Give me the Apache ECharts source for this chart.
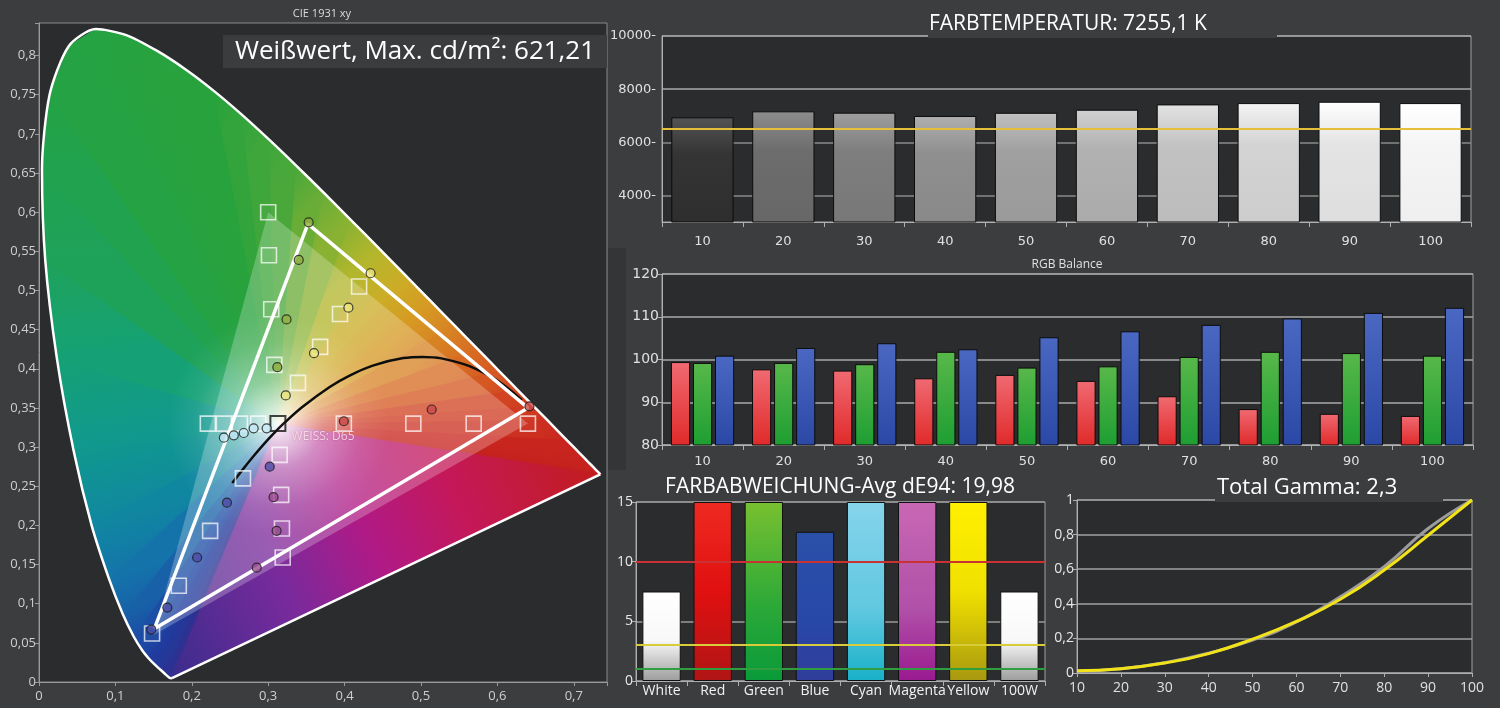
<!DOCTYPE html>
<html><head><meta charset="utf-8">
<script src="https://cdn.jsdelivr.net/npm/echarts@6/dist/echarts.min.js"></script>
<style>html,body{margin:0;padding:0;background:#3c3d3f;}#c{width:1500px;height:708px;}</style>
</head><body><div id="c"></div><script>
// ---------- DATA ----------
// CIE 1931 spectral locus (nm, x, y)
const locusNm = [380,400,410,420,430,440,450,455,460,465,470,475,480,485,490,495,500,505,510,515,520,525,530,535,540,545,550,555,560,565,570,575,580,585,590,595,600,605,610,620,630,640,650,660,680,700];
const locusX = [0.1741,0.1733,0.1726,0.1714,0.1689,0.1644,0.1566,0.1510,0.1440,0.1355,0.1241,0.1096,0.0913,0.0687,0.0454,0.0235,0.0082,0.0039,0.0139,0.0389,0.0743,0.1142,0.1547,0.1929,0.2296,0.2658,0.3016,0.3373,0.3731,0.4087,0.4441,0.4788,0.5125,0.5448,0.5752,0.6029,0.6270,0.6482,0.6658,0.6915,0.7079,0.7190,0.7260,0.7300,0.7334,0.7347];
const locusY = [0.0050,0.0048,0.0048,0.0051,0.0069,0.0109,0.0177,0.0227,0.0297,0.0399,0.0578,0.0868,0.1327,0.2007,0.2950,0.4127,0.5384,0.6548,0.7502,0.8120,0.8338,0.8262,0.8059,0.7816,0.7543,0.7243,0.6923,0.6589,0.6245,0.5896,0.5547,0.5202,0.4866,0.4544,0.4242,0.3965,0.3725,0.3514,0.3340,0.3083,0.2920,0.2809,0.2740,0.2700,0.2666,0.2653];
const whitePoint = [0.3127, 0.329];
const refGamut = [[0.64,0.33],[0.30,0.60],[0.15,0.06]];
const measuredGamut = [[0.151,0.068],[0.352,0.585],[0.640,0.350],[0.151,0.068]];
const planckLocus = [[0.253,0.254],[0.2637,0.2677],[0.2807,0.2883],[0.2952,0.3048],[0.3064,0.3166],[0.3221,0.3318],[0.3451,0.3516],[0.3805,0.3768],[0.4053,0.3907],[0.4369,0.4041],[0.4770,0.4137],[0.5019,0.4152],[0.5267,0.4133],[0.5857,0.3931],[0.632,0.360]];
const targetPts = [
  [0.300,0.600],[0.301,0.545],[0.304,0.476],[0.308,0.405],
  [0.419,0.505],[0.394,0.470],[0.368,0.428],[0.339,0.382],
  [0.640,0.330],[0.569,0.330],[0.490,0.330],[0.399,0.330],
  [0.221,0.330],[0.242,0.330],[0.263,0.330],[0.287,0.330],
  [0.148,0.062],[0.183,0.123],[0.224,0.193],[0.267,0.260],
  [0.315,0.290],[0.317,0.239],[0.318,0.196],[0.319,0.159]
];
const whiteTarget = [[0.3127,0.330]];
const measGreen = [[0.353,0.587],[0.340,0.539],[0.324,0.463],[0.312,0.402]];
const measYellow = [[0.434,0.522],[0.405,0.478],[0.360,0.420],[0.323,0.366]];
const measRed = [[0.642,0.352],[0.514,0.348],[0.399,0.333]];
const measCyan = [[0.242,0.312],[0.255,0.315],[0.268,0.318],[0.281,0.324],[0.298,0.324]];
const measBlue = [[0.147,0.067],[0.168,0.095],[0.207,0.159],[0.246,0.229],[0.302,0.275]];
const measMagenta = [[0.285,0.146],[0.311,0.193],[0.307,0.236]];
const whiteLabelPt = [[0.328,0.313]];

const tempCats = ['10','20','30','40','50','60','70','80','90','100'];
const tempValues = [6940,7165,7115,6990,7110,7225,7425,7475,7525,7475];
const tempTarget = 6500;

const rgbCats = ['10','20','30','40','50','60','70','80','90','100'];
const rgbRed   = [99.4,97.7,97.4,95.6,96.4,95.0,91.4,88.4,87.3,86.8];
const rgbGreen = [99.2,99.2,98.9,101.8,98.1,98.4,100.6,101.8,101.5,100.9];
const rgbBlue  = [100.9,102.7,103.8,102.4,105.2,106.6,108.1,109.6,110.9,112.1];

const deCats = ['White','Red','Green','Blue','Cyan','Magenta','Yellow','100W'];
const deValues = [7.5,15,15,12.5,15,15,15,7.5];
const deLimits = [10,3,1];

const gammaX = [10,20,30,40,50,60,70,80,90,100];
const gammaTarget = [0.010,0.025,0.060,0.115,0.190,0.295,0.440,0.615,0.835,1.0];
const gammaMeasured = [0.013,0.025,0.058,0.112,0.196,0.298,0.426,0.595,0.796,1.0];

// ---------- STYLE HELPERS ----------
const SPECTRUM = [[380,'#3b2d8c'],[440,'#2c3192'],[460,'#1f3c9e'],[470,'#1c4ea6'],[480,'#1474aa'],[487,'#0e8f9c'],[493,'#12a080'],[500,'#1ea25a'],[510,'#24a244'],[540,'#28a23c'],[555,'#4aa83a'],[565,'#8ab232'],[572,'#c4b82a'],[580,'#d69a23'],[590,'#d86a22'],[600,'#d24421'],[615,'#c9261f'],[700,'#c21d1d']];
function hex(h){return [parseInt(h.slice(1,3),16),parseInt(h.slice(3,5),16),parseInt(h.slice(5,7),16)];}
function nmColor(nm){
  for(let i=0;i<SPECTRUM.length-1;i++){
    const a=SPECTRUM[i],b=SPECTRUM[i+1];
    if(nm>=a[0]&&nm<=b[0]){
      const t=(nm-a[0])/(b[0]-a[0]);const ca=hex(a[1]),cb=hex(b[1]);
      return 'rgb('+ca.map((v,k)=>Math.round(v+(cb[k]-v)*t)).join(',')+')';
    }
  }
  return SPECTRUM[SPECTRUM.length-1][1];
}
function comma(v,step){
  if(Math.abs(v/step-Math.round(v/step))>1e-6) return '';
  return String(Math.round(v*1000)/1000).replace('.',',');
}
function lg(stops){return {type:'linear',x:0,y:0,x2:0,y2:1,colorStops:stops.map(s=>({offset:s[0],color:s[1]}))};}

const FONT='Open Sans';
const AX='#cfcfcf';

function fanItem(params, api){
  const i = api.value(0);
  const n = locusX.length;
  const w = api.coord(whitePoint);
  if(i < n-1){
    const p1 = api.coord([locusX[i],locusY[i]]);
    const p2 = api.coord([locusX[i+1],locusY[i+1]]);
    const g = {type:'linear',x:p1[0],y:p1[1],x2:p2[0],y2:p2[1],global:true,colorStops:[
      {offset:0,color:nmColor(locusNm[i])},{offset:1,color:nmColor(locusNm[i+1])}]};
    return {type:'polygon',shape:{points:[w,p1,p2]},style:{fill:g,stroke:g,lineWidth:1.2}};
  }
  const a = api.coord([locusX[0],locusY[0]]);
  const b = api.coord([locusX[n-1],locusY[n-1]]);
  const g = {type:'linear',x:a[0],y:a[1],x2:b[0],y2:b[1],global:true,colorStops:[
    {offset:0,color:'#3b2d8c'},{offset:0.3,color:'#7a2a9c'},{offset:0.5,color:'#b01a86'},{offset:0.7,color:'#c4185a'},{offset:1,color:'#c21d1d'}]};
  return {type:'polygon',shape:{points:[w,b,a]},style:{fill:g,stroke:g,lineWidth:1.2}};
}
function glowItem(params, api){
  const w = api.coord(whitePoint);
  const pts = locusX.map((x,i)=>api.coord([x,locusY[i]]));
  const r = api.coord([whitePoint[0]+0.145,whitePoint[1]])[0]-w[0];
  const tri = refGamut.map(p=>api.coord(p));
  return {type:'group',children:[
    {type:'polygon',shape:{points:tri},style:{fill:'rgba(255,255,255,0.24)'}},
    {type:'polygon',shape:{points:pts},style:{fill:{type:'radial',x:w[0],y:w[1],r:r,global:true,colorStops:[
      {offset:0,color:'rgba(255,255,255,0.95)'},{offset:0.1,color:'rgba(255,255,255,0.78)'},{offset:0.4,color:'rgba(255,255,255,0.33)'},{offset:0.75,color:'rgba(255,255,255,0.08)'},{offset:1,color:'rgba(255,255,255,0)'}]}}}
  ]};
}

const tempLevel = i => i===0 ? 52 : 92 + i*17;
const deStyle = {
  White:[[0,'#ffffff'],[0.55,'#f8f8f8'],[1,'#9c9c9c']],
  Red:[[0,'#ee2a22'],[0.5,'#e01010'],[1,'#b01515']],
  Green:[[0,'#78c030'],[0.6,'#2aa838'],[1,'#0a9a3a']],
  Blue:[[0,'#2a50a8'],[0.6,'#2848a8'],[1,'#303c9a']],
  Cyan:[[0,'#86d4ec'],[0.6,'#60c8e0'],[1,'#18b0c8']],
  Magenta:[[0,'#c868b4'],[0.6,'#b050a8'],[1,'#9a1a90']],
  Yellow:[[0,'#fff000'],[0.5,'#f0e000'],[1,'#a89810']],
  '100W':[[0,'#ffffff'],[0.55,'#f8f8f8'],[1,'#9c9c9c']]
};

function circles(data,color){
  return {type:'scatter',xAxisIndex:0,yAxisIndex:0,data:data,symbol:'circle',symbolSize:9,z:8,
    itemStyle:{color:color,borderColor:'#1c1c1c',borderWidth:1.2}};
}
function catAxis(grid,data){
  return {type:'category',gridIndex:grid,data:data,
    axisLine:{lineStyle:{color:'#b0b0b0'}},axisTick:{show:true,length:5,lineStyle:{color:'#b0b0b0'}},
    axisLabel:{color:'#e0e0e0',fontSize:13,fontFamily:'DejaVu Sans',margin:10,interval:0}};
}
const gridStyle = {show:true,backgroundColor:'#2b2c2e',borderColor:'#a0a0a0',borderWidth:1,outerBoundsMode:'none'};
const nL = locusX.length;

const option = {
  backgroundColor:'#3c3d3f',
  animation:false,
  grid:[
    Object.assign({left:39,top:23,width:568,height:659},gridStyle,{backgroundColor:'#2a2c2e',borderColor:'#8a8a8a'}),
    Object.assign({left:662,top:36,width:809,height:186},gridStyle),
    Object.assign({left:662,top:274,width:811,height:171},gridStyle),
    Object.assign({left:636,top:502,width:409,height:179},gridStyle),
    Object.assign({left:1077,top:500,width:395,height:173},gridStyle)
  ],
  xAxis:[
    {type:'value',gridIndex:0,min:0,max:0.7435,interval:0.1,splitLine:{show:false},
     axisLine:{lineStyle:{color:'#9a9a9a'}},axisTick:{show:true,length:4,lineStyle:{color:'#9a9a9a'}},
     axisLabel:{color:AX,fontSize:13,fontFamily:FONT,margin:8,formatter:v=>comma(v,0.1)}},
    Object.assign(catAxis(1,tempCats),{axisLabel:{color:'#e0e0e0',fontSize:13,fontFamily:'DejaVu Sans',margin:13,interval:0}}),
    catAxis(2,rgbCats),
    Object.assign(catAxis(3,deCats),{axisLabel:{color:'#f2f2f2',fontSize:14,fontFamily:FONT,margin:3,interval:0}}),
    {type:'value',gridIndex:4,min:10,max:100,interval:10,splitLine:{show:false},
     axisLine:{lineStyle:{color:'#b0b0b0'}},axisTick:{show:true,length:4,lineStyle:{color:'#b0b0b0'}},
     axisLabel:{color:'#e0e0e0',fontSize:14,fontFamily:FONT,margin:8}}
  ],
  yAxis:[
    {type:'value',gridIndex:0,min:0,max:0.8416,interval:0.05,splitLine:{show:false},
     axisLine:{show:true,lineStyle:{color:'#9a9a9a'}},axisTick:{show:true,length:4,lineStyle:{color:'#9a9a9a'}},
     axisLabel:{color:AX,fontSize:13,fontFamily:FONT,margin:3,formatter:v=>comma(v,0.05)}},
    {type:'value',gridIndex:1,min:3000,max:10000,interval:1000,
     splitLine:{show:true,lineStyle:{color:['transparent','#8a8a8a','transparent','#8a8a8a','transparent','#a8a8a8','transparent','#a8a8a8'],width:1.5}},
     axisLine:{show:true,lineStyle:{color:'#b0b0b0'}},axisTick:{show:false},
     axisLabel:{color:'#e0e0e0',fontSize:13,fontFamily:'DejaVu Sans',margin:6,formatter:v=>(v>=4000&&v%2000===0)?String(v)+'-':''}},
    {type:'value',gridIndex:2,min:80,max:120,interval:10,
     splitLine:{show:true,lineStyle:{color:'#a8a8a8',width:1.5}},
     axisLine:{show:true,lineStyle:{color:'#b0b0b0'}},axisTick:{show:true,length:4,lineStyle:{color:'#b0b0b0'}},
     axisLabel:{color:'#e0e0e0',fontSize:14,fontFamily:'DejaVu Sans',margin:3}},
    {type:'value',gridIndex:3,min:0,max:15,interval:5,
     splitLine:{show:true,lineStyle:{color:'#9a9a9a',width:1.5}},
     axisLine:{show:true,lineStyle:{color:'#b0b0b0'}},axisTick:{show:true,length:4,lineStyle:{color:'#b0b0b0'}},
     axisLabel:{color:'#e8e8e8',fontSize:14,fontFamily:FONT,margin:3}},
    {type:'value',gridIndex:4,min:0,max:1,interval:0.2,
     splitLine:{show:true,lineStyle:{color:'#a0a0a0',width:1.5}},
     axisLine:{show:true,lineStyle:{color:'#b0b0b0'}},axisTick:{show:true,length:4,lineStyle:{color:'#b0b0b0'}},
     axisLabel:{color:'#e8e8e8',fontSize:14,fontFamily:FONT,margin:3,formatter:v=>comma(v,0.2)}}
  ],
  graphic:[
    {type:'rect',z:100,shape:{x:608,y:248,width:18,height:222},style:{fill:'#343537'}},
    {type:'text',z:100,x:322,y:14,style:{text:'CIE 1931 xy',fill:'#dcdcdc',font:'11px "Open Sans"',textAlign:'center',textVerticalAlign:'middle'}},
    {type:'rect',z:100,shape:{x:223,y:35,width:384,height:33},style:{fill:'#3b3c3e'}},
    {type:'text',z:101,x:415,y:52,style:{text:'Weißwert, Max. cd/m²: 621,21',fill:'#ffffff',font:'26px "Open Sans"',textAlign:'center',textVerticalAlign:'middle'}},
    {type:'rect',z:100,shape:{x:928,y:10,width:349,height:28},style:{fill:'#3c3d3f'}},
    {type:'text',z:101,x:929,y:24,style:{text:'FARBTEMPERATUR: 7255,1 K',fill:'#ffffff',font:'21px "Open Sans"',textAlign:'left',textVerticalAlign:'middle'}},
    {type:'text',z:101,x:1067,y:265,style:{text:'RGB Balance',fill:'#e0e0e0',font:'12px "Open Sans"',textAlign:'center',textVerticalAlign:'middle'}},
    {type:'text',z:101,x:840,y:487,style:{text:'FARBABWEICHUNG-Avg dE94: 19,98',fill:'#ffffff',font:'21px "Open Sans"',textAlign:'center',textVerticalAlign:'middle'}},
    {type:'rect',z:100,shape:{x:1215,y:476,width:228,height:26},style:{fill:'#3c3d3f'}},
    {type:'text',z:101,x:1217,y:488,style:{text:'Total Gamma: 2,3',fill:'#ffffff',font:'22px "Open Sans"',textAlign:'left',textVerticalAlign:'middle'}}
  ],
  series:[
    {type:'custom',xAxisIndex:0,yAxisIndex:0,z:1,silent:true,renderItem:fanItem,data:locusX.map((_,i)=>[i,0])},
    {type:'custom',xAxisIndex:0,yAxisIndex:0,z:2,silent:true,renderItem:glowItem,data:[[0,0]]},
    {type:'line',xAxisIndex:0,yAxisIndex:0,z:3,symbol:'none',silent:true,smooth:0.25,
     data:locusX.map((x,i)=>[x,locusY[i]]),lineStyle:{color:'#ffffff',width:2.5}},
    {type:'line',xAxisIndex:0,yAxisIndex:0,z:3,symbol:'none',silent:true,
     data:[[locusX[nL-1],locusY[nL-1]],[locusX[0],locusY[0]]],lineStyle:{color:'#ffffff',width:2.5}},
    {type:'line',xAxisIndex:0,yAxisIndex:0,z:4,symbol:'none',smooth:0.4,silent:true,data:planckLocus,lineStyle:{color:'#0e0e0e',width:2.5}},
    {type:'line',xAxisIndex:0,yAxisIndex:0,z:5,symbol:'none',silent:true,data:measuredGamut,lineStyle:{color:'#ffffff',width:3.5}},
    {type:'scatter',xAxisIndex:0,yAxisIndex:0,z:6,data:targetPts,symbol:'rect',symbolSize:15,
     itemStyle:{color:'rgba(255,255,255,0.04)',borderColor:'rgba(255,255,255,0.9)',borderWidth:1.6}},
    {type:'scatter',xAxisIndex:0,yAxisIndex:0,z:6,data:whiteTarget,symbol:'rect',symbolSize:15,
     itemStyle:{color:'rgba(255,255,255,0.05)',borderColor:'#151515',borderWidth:2}},
    circles(measGreen,'#8fae3c'),
    circles(measYellow,'#ebe47a'),
    circles(measRed,'#c84848'),
    circles(measCyan,'#c4e8f4'),
    circles(measBlue,'#4c4ca6'),
    circles(measMagenta,'#9a4c8e'),
    {type:'scatter',xAxisIndex:0,yAxisIndex:0,z:20,data:whiteLabelPt,symbolSize:0,itemStyle:{color:'transparent'},
     label:{show:true,position:'right',distance:2,formatter:'WEISS: D65',color:'#fde9f1',fontSize:12,fontFamily:FONT,
       textShadowColor:'rgba(150,20,80,0.55)',textShadowBlur:2}},
    {type:'bar',xAxisIndex:1,yAxisIndex:1,data:tempValues,barCategoryGap:'23%',
     itemStyle:{borderColor:'#0c0c0c',borderWidth:1,color:p=>{const L=tempLevel(p.dataIndex);const c=v=>'rgb('+[v,v,v].map(x=>Math.max(0,Math.min(255,Math.round(x)))).join(',')+')';
       return lg([[0,c(L+32)],[0.35,c(L)],[1,c(L-6)]]);}},
     markLine:{silent:true,symbol:['none','none'],label:{show:false},lineStyle:{color:'#e6bf3a',width:2,type:'solid'},data:[{yAxis:tempTarget}]}},
    {type:'bar',xAxisIndex:2,yAxisIndex:2,data:rgbRed,barCategoryGap:'22%',barGap:'15%',
     itemStyle:{borderColor:'#0c0c0c',borderWidth:1,color:lg([[0,'#f06a72'],[1,'#e02a2a']])}},
    {type:'bar',xAxisIndex:2,yAxisIndex:2,data:rgbGreen,
     itemStyle:{borderColor:'#0c0c0c',borderWidth:1,color:lg([[0,'#58b84a'],[1,'#1e9e32']])}},
    {type:'bar',xAxisIndex:2,yAxisIndex:2,data:rgbBlue,
     itemStyle:{borderColor:'#0c0c0c',borderWidth:1,color:lg([[0,'#4a68c2'],[1,'#2c48a6']])}},
    {type:'bar',xAxisIndex:3,yAxisIndex:3,data:deValues,barCategoryGap:'25%',
     itemStyle:{borderColor:'#111',borderWidth:1,color:p=>lg(deStyle[deCats[p.dataIndex]])},
     markLine:{silent:true,symbol:['none','none'],label:{show:false},data:[
       {yAxis:deLimits[0],lineStyle:{color:'#c83232',width:2,type:'solid'}},
       {yAxis:deLimits[1],lineStyle:{color:'#d8cc3a',width:2,type:'solid'}},
       {yAxis:deLimits[2],lineStyle:{color:'#2f9e3e',width:2,type:'solid'}}]}},
    {type:'line',xAxisIndex:4,yAxisIndex:4,symbol:'none',smooth:true,data:gammaX.map((x,i)=>[x,gammaTarget[i]]),lineStyle:{color:'#9c9c9c',width:3}},
    {type:'line',xAxisIndex:4,yAxisIndex:4,symbol:'none',smooth:true,data:gammaX.map((x,i)=>[x,gammaMeasured[i]]),lineStyle:{color:'#f2e21a',width:3}}
  ]
};
const chart = echarts.init(document.getElementById('c'));
chart.setOption(option);
</script></body></html>
